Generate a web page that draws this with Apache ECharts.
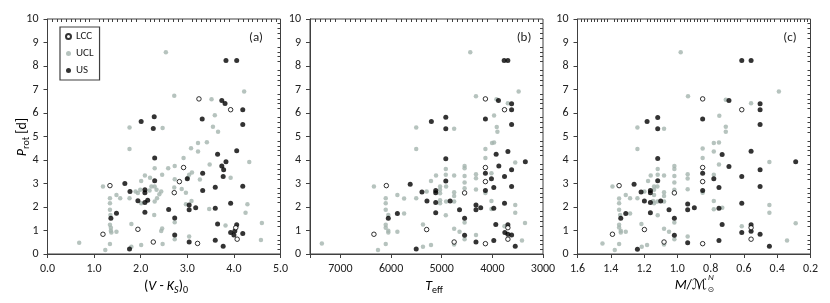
<!DOCTYPE html>
<html><head><meta charset="utf-8">
<script src="https://cdn.jsdelivr.net/npm/echarts@6/dist/echarts.min.js"></script>
<style>html,body{margin:0;padding:0;background:#fff}#c{width:830px;height:303px}</style>
</head><body><div id="c"></div>
<script>
// ---------- data: panel (a) x = (V-Ks)0 ----------
const lccA = [[1.19,0.84],[1.34,2.91],[1.94,1.05],[2.27,0.51],[2.72,2.61],[2.83,3.08],[2.92,3.68],[3.22,0.45],[3.25,6.6],[3.93,6.14],[4.04,1.12],[4.07,0.63]];
const usA = [[1.36,1.52],[1.48,1.73],[1.66,3.0],[1.77,2.66],[1.76,0.21],[1.94,2.27],[2.01,5.64],[2.09,2.73],[2.09,2.61],[2.09,2.19],[2.15,2.29],[2.09,1.78],[2.29,5.84],[2.27,5.34],[2.3,4.08],[2.3,3.12],[2.6,1.89],[2.73,1.53],[2.73,0.81],[3.0,3.2],[3.04,2.09],[3.04,1.88],[3.04,0.51],[3.18,1.97],[3.32,5.75],[3.33,3.44],[3.33,2.7],[3.6,2.84],[3.6,1.95],[3.6,0.58],[3.65,4.25],[3.65,1.28],[3.74,6.53],[3.81,6.4],[3.74,3.74],[3.78,3.59],[3.77,3.3],[3.83,3.93],[3.77,0.33],[3.83,8.23],[4.06,8.23],[3.93,2.16],[3.93,0.92],[4.0,0.81],[4.02,0.98],[4.06,1.25],[4.06,4.39],[4.19,6.14],[4.19,5.51],[4.19,2.88],[4.19,0.87]];
const uclA = [[0.68,0.48],[1.19,2.87],[1.24,0.17],[1.34,2.37],[1.34,2.16],[1.34,1.88],[1.35,1.66],[1.34,1.24],[1.36,1.12],[1.36,0.99],[1.37,0.91],[1.34,0.43],[1.48,2.51],[1.48,0.95],[1.56,2.37],[1.76,5.38],[1.76,4.47],[1.76,2.37],[1.8,1.28],[1.8,0.31],[1.89,2.66],[1.94,2.6],[1.99,2.73],[2.01,2.16],[2.01,0.38],[2.09,3.34],[2.01,3.11],[2.19,2.7],[2.23,2.87],[2.2,3.25],[2.3,3.65],[2.3,2.87],[2.34,2.73],[2.3,2.23],[2.35,2.37],[2.4,2.54],[2.44,2.66],[2.29,1.66],[2.46,3.37],[2.46,1.09],[2.44,0.98],[2.47,0.43],[2.47,5.36],[2.54,8.58],[2.59,3.65],[2.72,6.73],[2.73,3.75],[2.73,3.18],[2.72,2.83],[2.88,2.77],[2.97,2.61],[2.97,2.12],[3.09,2.26],[2.73,1.35],[2.73,0.63],[3.04,0.74],[3.01,3.25],[3.04,3.37],[3.1,3.47],[3.08,4.5],[3.23,4.72],[3.23,4.36],[3.42,4.76],[3.27,3.17],[2.92,4.08],[3.48,3.81],[3.47,1.92],[3.52,6.58],[3.55,5.41],[3.59,5.9],[3.66,5.2],[3.82,1.21],[3.93,3.25],[4.22,6.91],[4.29,2.12],[4.25,1.76],[4.33,3.91],[4.6,1.32],[4.58,0.6]];

// ---------- data: panel (b) x = Teff ----------
const lccB = [[6338,0.84],[6093,2.91],[5297,1.04],[4754,0.51],[4548,2.6],[4137,3.08],[4137,3.68],[4137,0.44],[4137,6.6],[3760,6.14],[3693,1.12],[3693,0.63]];
const usB = [[6054,1.52],[5875,1.72],[5622,2.97],[5390,2.64],[5503,0.21],[5291,2.26],[5204,5.64],[5118,2.70],[5118,2.61],[5118,2.19],[5118,1.76],[4919,5.82],[4919,5.33],[4919,4.05],[4919,3.11],[4833,2.26],[4648,1.88],[4548,1.52],[4548,0.8],[4323,2.09],[4323,1.88],[4230,1.97],[4323,0.51],[4137,5.75],[4137,3.44],[4137,2.7],[4018,3.2],[3972,2.83],[3972,1.95],[3972,0.57],[3925,4.25],[3932,1.26],[3879,6.53],[3872,3.74],[3767,8.23],[3694,8.23],[3620,6.39],[3620,6.14],[3620,5.51],[3693,4.36],[3760,3.3],[3620,3.58],[3620,2.87],[3760,2.16],[3349,3.93],[3693,1.25],[3753,0.92],[3693,0.84],[3620,0.81],[3548,0.33]];
const uclB = [[7366,0.45],[6338,2.87],[6258,0.17],[6105,2.37],[6105,2.16],[6105,1.88],[6054,1.66],[6105,1.24],[6105,1.12],[6054,0.99],[6054,0.91],[6105,0.43],[5875,2.51],[5875,0.95],[5742,2.36],[5742,1.72],[5503,5.38],[5503,4.47],[5503,2.37],[5370,1.26],[5370,0.31],[5297,2.66],[5211,3.11],[5211,0.38],[5112,3.34],[5032,2.87],[5032,2.73],[5032,2.59],[5032,2.29],[5032,2.16],[4913,2.87],[4913,2.23],[4919,3.62],[4919,3.37],[4919,1.65],[4754,5.33],[4754,3.34],[4754,2.63],[4754,2.47],[4754,2.23],[4754,1.07],[4648,0.95],[4754,0.4],[4548,3.75],[4548,3.65],[4548,3.32],[4548,3.04],[4548,2.8],[4548,1.34],[4548,0.63],[4436,8.58],[4324,6.71],[4323,3.39],[4323,3.22],[4323,2.74],[4323,0.81],[4137,4.47],[4137,4.08],[4137,2.6],[3919,6.58],[3966,5.89],[3913,5.4],[3900,5.2],[4006,4.72],[3966,4.74],[4018,3.44],[4018,2.26],[4018,1.92],[3694,6.42],[3481,6.91],[3548,3.89],[3548,2.09],[3548,1.76],[3355,1.32],[3760,1.18],[3415,0.57]];

// ---------- data: panel (c) x = M / M_sun ----------
const lccC = [[1.39,0.84],[1.35,2.91],[1.198,1.04],[1.08,0.51],[1.018,2.6],[0.848,3.08],[0.848,3.68],[0.848,0.44],[0.848,6.6],[0.613,6.14],[0.557,1.12],[0.557,0.63]];
const usC = [[1.34,1.52],[1.31,1.72],[1.26,2.97],[1.218,2.64],[1.24,0.2],[1.198,2.26],[1.182,5.64],[1.162,2.70],[1.162,2.61],[1.162,2.19],[1.162,1.76],[1.118,5.81],[1.118,5.33],[1.118,4.06],[1.118,3.12],[1.10,2.26],[1.05,1.88],[1.018,1.52],[1.018,0.8],[0.938,2.13],[0.938,1.88],[0.898,1.97],[0.938,0.48],[0.848,5.75],[0.848,3.44],[0.848,2.7],[0.781,3.2],[0.75,2.83],[0.75,1.95],[0.75,0.57],[0.731,4.23],[0.731,1.26],[0.69,6.53],[0.69,3.72],[0.613,8.23],[0.557,8.23],[0.503,6.39],[0.503,6.14],[0.503,5.51],[0.557,4.37],[0.613,3.3],[0.503,3.58],[0.503,2.87],[0.613,2.16],[0.289,3.93],[0.557,1.25],[0.613,0.91],[0.557,0.97],[0.503,0.84],[0.447,0.33]];
const uclC = [[1.45,0.45],[1.39,2.87],[1.376,0.17],[1.35,2.36],[1.35,2.16],[1.35,1.88],[1.344,1.66],[1.35,1.24],[1.35,1.13],[1.34,0.99],[1.34,0.91],[1.35,0.43],[1.31,2.51],[1.31,0.95],[1.284,2.37],[1.284,1.72],[1.24,5.38],[1.24,4.47],[1.24,2.37],[1.216,1.28],[1.214,0.31],[1.198,2.66],[1.176,3.11],[1.182,0.38],[1.16,3.34],[1.14,2.87],[1.14,2.73],[1.14,2.51],[1.146,2.26],[1.14,2.16],[1.12,2.87],[1.12,2.23],[1.118,3.62],[1.118,3.37],[1.118,1.65],[1.08,5.33],[1.08,3.34],[1.08,2.63],[1.08,2.47],[1.08,2.23],[1.08,1.07],[1.05,0.95],[1.08,0.4],[1.018,3.75],[1.018,3.62],[1.018,3.32],[1.018,3.04],[1.018,2.73],[1.018,1.34],[1.018,0.63],[0.98,8.58],[0.936,6.71],[0.938,3.39],[0.938,3.21],[0.938,2.76],[0.938,0.74],[0.848,4.49],[0.848,4.08],[0.848,2.61],[0.709,6.56],[0.748,5.88],[0.709,5.41],[0.709,5.2],[0.781,4.72],[0.75,4.74],[0.781,4.36],[0.75,3.81],[0.781,3.37],[0.781,2.26],[0.781,1.9],[0.73,1.97],[0.557,6.42],[0.39,6.91],[0.447,3.91],[0.447,2.09],[0.447,1.76],[0.289,1.31],[0.613,1.18],[0.341,0.57]];

// ---------- tick labels / names ----------
const legendNames = ['LCC','UCL','US'];
const panelLabels = ['(a)','(b)','(c)'];
const yTicks = [0,1,2,3,4,5,6,7,8,9,10];

const FONT = 'Carlito, Lato, sans-serif';
const TXT = '#222222';
const LINE = '#404040';

const grids = [
  {left:47.5, top:19, width:233, height:235},
  {left:310, top:19, width:233, height:235},
  {left:577.5, top:19, width:233, height:235}
];
const xSpec = [
  {min:0, max:5, interval:1, inverse:false, fmt:v=>v.toFixed(1)},
  {min:3000, max:7600, interval:1000, inverse:true, fmt:v=> (Math.abs(v%1000)<1e-6 ? String(v) : '')},
  {min:0.2, max:1.6, interval:0.2, inverse:true, fmt:v=>v.toFixed(1)}
];
const panels = [[uclA,usA,lccA],[uclB,usB,lccB],[uclC,usC,lccC]];

const gridOpt = [], xAxes = [], yAxes = [], series = [];
grids.forEach((g,i)=>{
  gridOpt.push(Object.assign({show:true, borderColor:LINE, borderWidth:1, backgroundColor:'transparent'}, g));
  const xs = xSpec[i];
  xAxes.push({type:'value', gridIndex:i, min:xs.min, max:xs.max, interval:xs.interval, inverse:xs.inverse,
    axisLine:{show:true, onZero:false, lineStyle:{color:LINE, width:1}},
    axisTick:{show:true, inside:false, length:4, lineStyle:{color:LINE}},
    minorTick:{show:false},
    splitLine:{show:false},
    axisLabel:{formatter:xs.fmt, fontFamily:FONT, fontSize:12, color:TXT, margin:9, showMaxLabel:true, showMinLabel:true}});
  xAxes.push({type:'value', gridIndex:i, min:xs.min, max:xs.max, interval:xs.interval, inverse:xs.inverse,
    axisLine:{show:false, onZero:false}, axisTick:{show:false, inside:true},
    minorTick:{show:true, splitNumber:10, length:3, lineStyle:{color:LINE, width:1}},
    splitLine:{show:false}, axisLabel:{show:false}});
  yAxes.push({type:'value', gridIndex:i, min:yTicks[0], max:yTicks[yTicks.length-1], interval:1,
    axisLine:{show:true, onZero:false, lineStyle:{color:LINE, width:1}},
    axisTick:{show:true, inside:false, length:4, lineStyle:{color:LINE}},
    minorTick:{show:false}, splitLine:{show:false},
    axisLabel:{fontFamily:FONT, fontSize:12, color:TXT, margin:9}});
  yAxes.push({type:'value', gridIndex:i, min:yTicks[0], max:yTicks[yTicks.length-1], interval:1,
    axisLine:{show:false, onZero:false}, axisTick:{show:false, inside:true},
    minorTick:{show:true, splitNumber:5, length:3, lineStyle:{color:LINE, width:1}},
    splitLine:{show:false}, axisLabel:{show:false}});
  const [ucl, us, lcc] = panels[i];
  series.push({name:'UCL', type:'scatter', xAxisIndex:2*i, yAxisIndex:2*i, data:ucl, symbol:'circle', symbolSize:4.5,
    itemStyle:{color:'#a4b4ae'}, z:2});
  series.push({name:'US', type:'scatter', xAxisIndex:2*i, yAxisIndex:2*i, data:us, symbol:'circle', symbolSize:5,
    itemStyle:{color:'#000000'}, z:3});
  series.push({name:'LCC', type:'scatter', xAxisIndex:2*i, yAxisIndex:2*i, data:lcc, symbol:'circle', symbolSize:4.5,
    itemStyle:{color:'#ffffff', borderColor:'#000000', borderWidth:1}, z:4});
});

const graphic = [];
const labX = [256, 524, 790];
panelLabels.forEach((t,i)=>{
  graphic.push({type:'text', x:labX[i], y:38, style:{text:t, fill:TXT, fontFamily:FONT, fontSize:13, align:'center', verticalAlign:'middle'}});
});
const rich = {
  n:{fontFamily:FONT, fontSize:14, color:TXT, lineHeight:18, verticalAlign:'middle'},
  i:{fontFamily:FONT, fontSize:14, fontStyle:'italic', color:TXT, lineHeight:18, verticalAlign:'middle'},
  m:{fontFamily:'DejaVu Serif, DejaVu Sans', fontSize:14, fontStyle:'italic', color:TXT, lineHeight:18, verticalAlign:'middle'},
  s:{fontFamily:FONT, fontSize:10, color:TXT, lineHeight:10, verticalAlign:'bottom'},
  is:{fontFamily:FONT, fontSize:10, fontStyle:'italic', color:TXT, lineHeight:10, verticalAlign:'bottom'}
};
graphic.push({type:'text', x:166, y:286, style:{text:'{n|(}{i|V}{n| - }{i|K}{is|S}{n|)}{s|0}', rich:rich, align:'center', verticalAlign:'middle'}});
graphic.push({type:'text', x:434, y:286, style:{text:'{i|T}{s|eff}', rich:rich, align:'center', verticalAlign:'middle'}});
graphic.push({type:'text', x:707, y:285, style:{text:'{i|M}{n|/}{m|\u2133}', rich:rich, align:'right', verticalAlign:'middle'}});
graphic.push({type:'text', x:708, y:278, style:{text:'N', fill:TXT, fontFamily:FONT, fontSize:9, fontStyle:'italic', align:'left', verticalAlign:'middle'}});
graphic.push({type:'text', x:707.5, y:290, style:{text:'\u2299', fill:TXT, fontFamily:'DejaVu Sans', fontSize:8, align:'left', verticalAlign:'middle'}});
graphic.push({type:'text', x:22, y:137, rotation:Math.PI/2, style:{text:'{i|P}{s|rot}{n| [d]}', rich:rich, align:'center', verticalAlign:'middle'}});

const chart = echarts.init(document.getElementById('c'), null, {renderer:'canvas'});
chart.setOption({
  animation:false,
  backgroundColor:'#ffffff',
  grid:gridOpt, xAxis:xAxes, yAxis:yAxes, series:series, graphic:graphic,
  legend:{data:legendNames, orient:'vertical', left:60, top:27, itemWidth:5, itemHeight:5, itemGap:6,
    padding:[4,6,4,5], borderColor:LINE, borderWidth:1.2, icon:'circle', selectedMode:false,
    textStyle:{fontFamily:FONT, fontSize:11, color:TXT}}
});
</script></body></html>
